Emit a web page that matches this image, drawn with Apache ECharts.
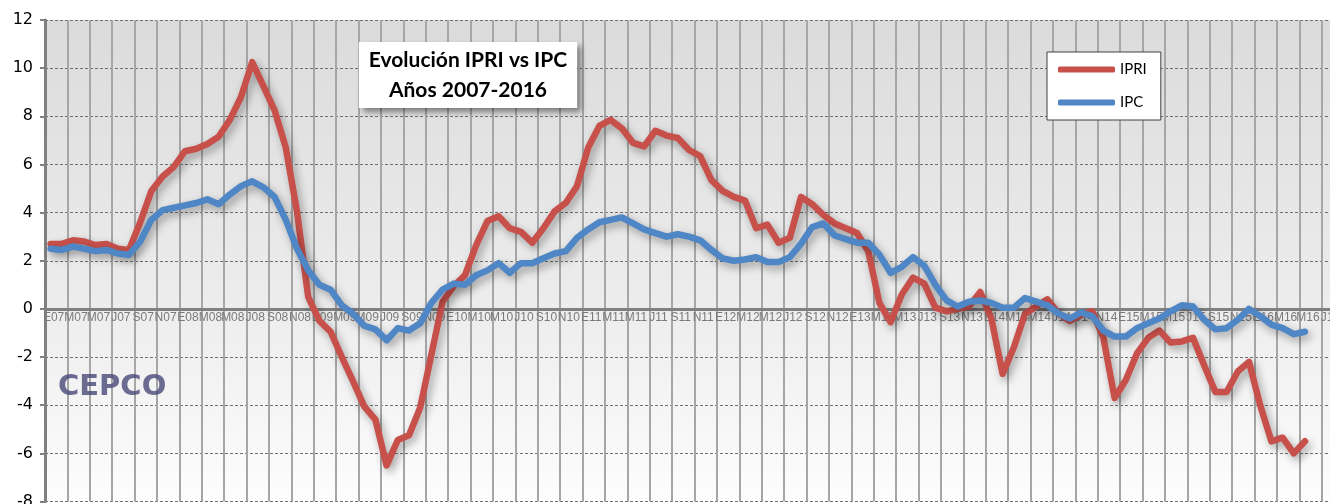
<!DOCTYPE html>
<html>
<head>
<meta charset="utf-8">
<script src="https://cdn.jsdelivr.net/npm/echarts@6/dist/echarts.min.js"></script>
<style>
  html, body { margin: 0; padding: 0; background: #fff; }
  #chart { width: 1330px; height: 504px; }
</style>
</head>
<body>
<div id="chart"></div>
<script>
// meses: E F M A M J J A S O N D
const monthLetters = ['E', 'F', 'M', 'A', 'M', 'J', 'J', 'A', 'S', 'O', 'N', 'D']
const years = ['07', '08', '09', '10', '11', '12', '13', '14', '15', '16']
const monthCount = 118

const ipri = [
  2.7, 2.7, 2.85, 2.8, 2.65, 2.7, 2.5, 2.45, 3.6, 4.9, 5.5, 5.9,
  6.55, 6.65, 6.85, 7.15, 7.85, 8.8, 10.25, 9.25, 8.25, 6.7, 4.05, 0.5,
  -0.5, -0.95, -2.0, -3.0, -4.05, -4.6, -6.5, -5.45, -5.25, -4.1, -1.9, 0.3,
  0.95, 1.4, 2.65, 3.65, 3.85, 3.35, 3.2, 2.75, 3.35, 4.05, 4.4, 5.1,
  6.7, 7.6, 7.85, 7.5, 6.9, 6.75, 7.4, 7.2, 7.1, 6.6, 6.35, 5.35,
  4.9, 4.65, 4.5, 3.35, 3.5, 2.75, 2.95, 4.65, 4.35, 3.9, 3.55, 3.35,
  3.15, 2.4, 0.25, -0.55, 0.6, 1.3, 1.05, 0.05, -0.1, 0.0, 0.1, 0.7,
  -0.4, -2.7, -1.6, -0.2, 0.1, 0.4, -0.2, -0.5, -0.25, -0.1, -1.2, -3.7,
  -2.95, -1.85, -1.2, -0.9, -1.4, -1.35, -1.2, -2.35, -3.45, -3.45, -2.6, -2.2,
  -4.0, -5.5, -5.35, -6.0, -5.5
]
const ipc = [
  2.5, 2.45, 2.6, 2.5, 2.4, 2.45, 2.3, 2.25, 2.8, 3.7, 4.1, 4.2,
  4.3, 4.4, 4.55, 4.35, 4.75, 5.1, 5.3, 5.05, 4.65, 3.7, 2.5, 1.6,
  1.0, 0.8, 0.15, -0.2, -0.7, -0.85, -1.3, -0.8, -0.9, -0.6, 0.25, 0.8,
  1.05, 1.0, 1.4, 1.6, 1.9, 1.5, 1.9, 1.9, 2.1, 2.3, 2.4, 2.95,
  3.3, 3.6, 3.7, 3.8, 3.55, 3.3, 3.15, 3.0, 3.1, 3.0, 2.85, 2.45,
  2.1, 2.0, 2.05, 2.15, 1.95, 1.95, 2.15, 2.7, 3.4, 3.55, 3.05, 2.9,
  2.75, 2.75, 2.25, 1.5, 1.75, 2.15, 1.8, 1.0, 0.35, 0.1, 0.3, 0.35,
  0.25, 0.05, 0.05, 0.45, 0.3, 0.15, -0.2, -0.4, -0.15, -0.3, -0.9, -1.15,
  -1.15, -0.8, -0.6, -0.4, -0.1, 0.15, 0.1, -0.45, -0.85, -0.8, -0.45, 0.0,
  -0.3, -0.65, -0.8, -1.05, -0.95
]

const categories = []
for (const y of years) {
  for (const m of monthLetters) {
    if (categories.length < monthCount) categories.push(m + y)
  }
}

const chart = echarts.init(document.getElementById('chart'))
const option = {
  animation: false,
  backgroundColor: '#fff',
  title: {
    text: 'Evolución IPRI vs IPC\nAños 2007-2016',
    left: 458,
    top: 42,
    textAlign: 'center',
    padding: [3, 10, 3, 10],
    backgroundColor: '#fff',
    shadowColor: 'rgba(0,0,0,0.45)',
    shadowBlur: 6,
    shadowOffsetX: 4,
    shadowOffsetY: 4,
    textStyle: {
      fontFamily: 'Lato',
      fontWeight: 'bold',
      fontSize: 21,
      lineHeight: 30,
      color: '#000',
    },
  },
  legend: {
    orient: 'vertical',
    left: 1047,
    top: 52,
    padding: [10, 14, 10, 11],
    itemWidth: 57,
    itemHeight: 6,
    itemGap: 18,
    icon: 'roundRect',
    backgroundColor: '#fff',
    borderColor: '#404040',
    borderWidth: 1,
    borderRadius: 0,
    textStyle: { fontFamily: 'Lato', fontSize: 15, color: '#000' },
    data: ['IPRI', 'IPC'],
  },
  grid: {
    left: 45,
    right: -36.6,
    top: 20,
    bottom: 2.5,
    containLabel: false,
    outerBoundsMode: 'none',
    show: true,
    borderWidth: 0,
    backgroundColor: new echarts.graphic.LinearGradient(0, 0, 0, 1, [
      { offset: 0, color: '#dbdbdb' },
      { offset: 0.6, color: '#ededed' },
      { offset: 1, color: '#fdfdfd' },
    ]),
  },
  xAxis: {
    type: 'category',
    data: categories,
    boundaryGap: true,
    position: 'bottom',
    // la línea del eje va en el 0
    offset: -192.5,
    axisLine: { onZero: false, lineStyle: { color: '#808080', width: 3 } },
    axisTick: { show: false },
    axisLabel: {
      show: true,
      interval: 1,
      margin: 3,
      padding: [0, 0, 0, 6],
      color: '#7a7a7a',
      fontFamily: 'Liberation Sans',
      fontSize: 12,
    },
    splitLine: {
      show: true,
      interval: 1,
      lineStyle: { color: '#a6a6a6', width: 2 },
    },
  },
  yAxis: {
    type: 'value',
    min: -8,
    max: 12,
    interval: 2,
    axisLine: { show: true, lineStyle: { color: '#808080', width: 3 } },
    axisTick: { show: true, length: 5, lineStyle: { color: '#808080', width: 2 } },
    axisLabel: {
      margin: 12,
      color: '#000',
      fontFamily: 'DejaVu Sans',
      fontSize: 16,
    },
    splitLine: {
      lineStyle: { color: '#707070', width: 1, type: [3, 2] },
    },
  },
  graphic: [
    {
      type: 'text',
      left: 58,
      top: 373,
      z: 1,
      style: {
        text: 'CEPCO',
        font: 'bold 29px "DejaVu Sans"',
        fill: 'rgba(72,72,120,0.8)',
      },
    },
  ],
  series: [
    {
      name: 'IPRI',
      type: 'line',
      data: ipri,
      showSymbol: false,
      color: '#c8504b',
      lineStyle: {
        width: 6.5,
        cap: 'round',
        join: 'round',
        shadowColor: 'rgba(0,0,0,0.35)',
        shadowBlur: 8,
        shadowOffsetX: 3,
        shadowOffsetY: 4,
      },
    },
    {
      name: 'IPC',
      type: 'line',
      data: ipc,
      showSymbol: false,
      color: '#4f86c6',
      lineStyle: {
        width: 6.5,
        cap: 'round',
        join: 'round',
        shadowColor: 'rgba(0,0,0,0.35)',
        shadowBlur: 8,
        shadowOffsetX: 3,
        shadowOffsetY: 4,
      },
    },
  ],
}
chart.setOption(option)
</script>
</body>
</html>
